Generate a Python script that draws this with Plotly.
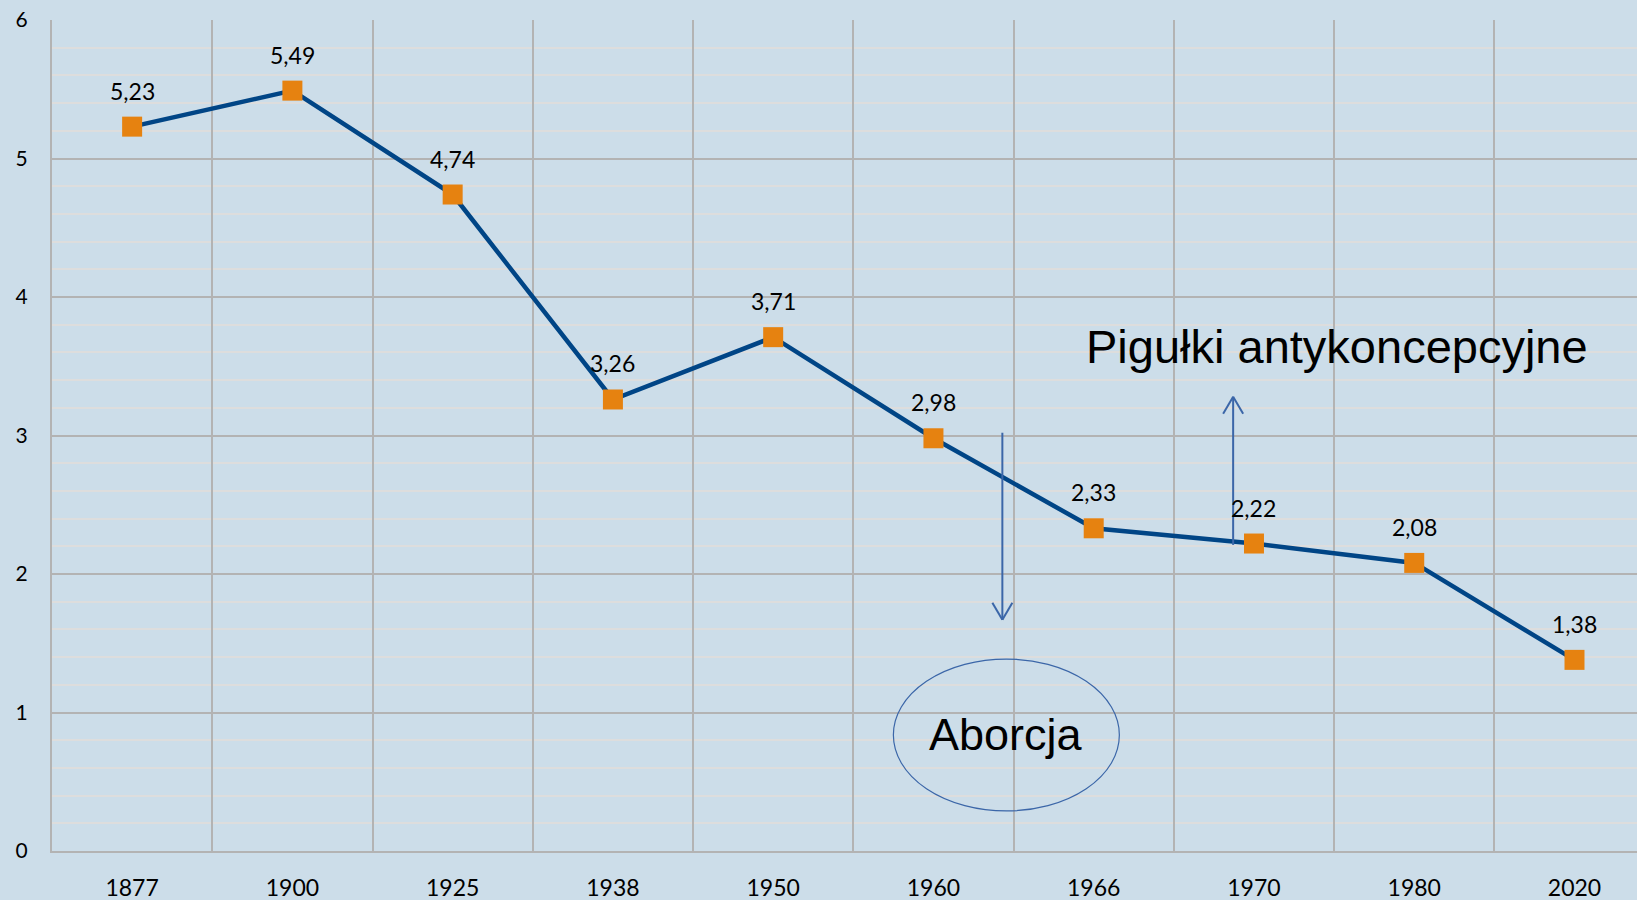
import plotly.graph_objects as go

years = ["1877", "1900", "1925", "1938", "1950", "1960", "1966", "1970", "1980", "2020"]
values = [5.23, 5.49, 4.74, 3.26, 3.71, 2.98, 2.33, 2.22, 2.08, 1.38]
value_labels = [f"{v:.2f}".replace(".", ",") for v in values]

BG = "#ccdde9"
LINE = "#004586"
MARK = "#e68210"
ARROW = "#3b66a8"
MAJOR = "#b3b3b3"
MINOR = "#dddddd"
FONT = "Lato"

fig = go.Figure()
fig.add_trace(go.Scatter(
    x=years, y=values, mode="lines+markers",
    line=dict(color=LINE, width=4.5),
    marker=dict(symbol="square", size=20, color=MARK, line=dict(width=0)),
    hoverinfo="skip", showlegend=False,
))

for i, (v, lab) in enumerate(zip(values, value_labels)):
    fig.add_annotation(x=i, y=v, xref="x", yref="y", text=lab, showarrow=False, yshift=36,
                       font=dict(family=FONT, size=23, color="#000000"))

# annotations text
fig.add_annotation(x=7.52, y=3.64, xref="x", yref="y", text="Pigułki antykoncepcyjne",
                   showarrow=False, font=dict(family="Liberation Sans", size=47, color="#000000"))
fig.add_annotation(x=5.45, y=0.84, xref="x", yref="y", text="Aborcja",
                   showarrow=False, font=dict(family="Liberation Sans", size=45, color="#000000"))

# ellipse
fig.add_shape(type="circle", xref="x", yref="y", x0=4.75, x1=6.16, y0=0.289, y1=1.386,
              line=dict(color=ARROW, width=1.2))

# down arrow
fig.add_shape(type="line", xref="x", yref="y", x0=5.43, x1=5.43, y0=3.02, y1=1.67,
              line=dict(color=ARROW, width=2))
for dx in (-10, 10):
    fig.add_shape(type="line", xref="x", yref="y", xsizemode="pixel", ysizemode="pixel",
                  xanchor=5.43, yanchor=1.67, x0=0, x1=dx, y0=0, y1=17,
                  line=dict(color=ARROW, width=2))
# up arrow
fig.add_shape(type="line", xref="x", yref="y", x0=6.87, x1=6.87, y0=2.21, y1=3.28,
              line=dict(color=ARROW, width=2))
for dx in (-10, 10):
    fig.add_shape(type="line", xref="x", yref="y", xsizemode="pixel", ysizemode="pixel",
                  xanchor=6.87, yanchor=3.28, x0=0, x1=dx, y0=0, y1=-17,
                  line=dict(color=ARROW, width=2))

fig.update_layout(
    width=1637, height=900,
    margin=dict(l=52, r=0, t=20, b=49, autoexpand=False),
    paper_bgcolor=BG, plot_bgcolor=BG,
    showlegend=False,
)
fig.update_xaxes(
    type="category", range=[-0.5, 9.39], automargin=False,
    tickson="boundaries", showgrid=True, gridcolor=MAJOR, gridwidth=2,
    ticks="", showline=True, linecolor=MAJOR, linewidth=2,
    tickfont=dict(family=FONT, size=23, color="#000000"),
    ticklabelstandoff=15, zeroline=False, fixedrange=True,
)
fig.update_yaxes(
    range=[0, 6], dtick=1, showgrid=True, gridcolor=MAJOR, gridwidth=2, automargin=False,
    minor=dict(dtick=0.2, showgrid=True, gridcolor=MINOR, gridwidth=2),
    ticks="", showline=True, linecolor=MAJOR, linewidth=2, zeroline=False,
    tickfont=dict(family=FONT, size=21, color="#000000"),
    ticklabelstandoff=18, fixedrange=True,
)

fig.write_html("out.html", config={"displayModeBar": False},
               post_script="document.body.style.margin='0';document.body.style.overflow='hidden';")
